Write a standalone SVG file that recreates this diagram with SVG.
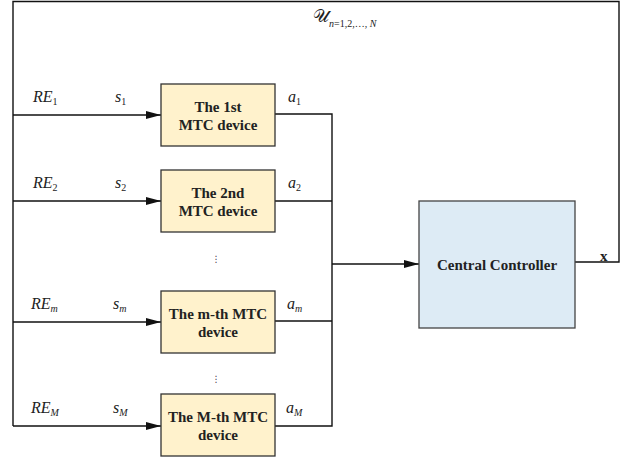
<svg xmlns="http://www.w3.org/2000/svg" width="628" height="460" viewBox="0 0 628 460">
<style>
.dev{fill:#FFF2CC;stroke:#333;stroke-width:1.3}
.ctl{fill:#DDEBF5;stroke:#444;stroke-width:1.3}
.bt{font-family:"Liberation Serif",serif;font-weight:bold;font-size:15px;fill:#222;text-anchor:middle}
.lbl{font-family:"Liberation Serif",serif;font-style:italic;font-size:16px;fill:#222}
.sub{font-size:10px}
.ln{fill:none;stroke:#111;stroke-width:1.4}
.dots{font-family:"DejaVu Sans",sans-serif;font-size:9px;fill:#444;text-anchor:middle}
</style>
<defs>
<marker id="arr" markerWidth="15" markerHeight="8" refX="15" refY="4" orient="auto" markerUnits="userSpaceOnUse">
<path d="M0,0 L15,4 L0,8 Z" fill="#111"/>
</marker>
</defs>
<g id="connectors">
<path class="ln" d="M13,426 V1.5 H619 V262 H575"/>
<line class="ln" x1="13" y1="115" x2="161" y2="115" marker-end="url(#arr)"/>
<line class="ln" x1="13" y1="201" x2="161" y2="201" marker-end="url(#arr)"/>
<line class="ln" x1="13" y1="322" x2="161" y2="322" marker-end="url(#arr)"/>
<line class="ln" x1="13" y1="426" x2="161" y2="426" marker-end="url(#arr)"/>
<path class="ln" d="M275,114 H332 V426 H275"/>
<line class="ln" x1="275" y1="201" x2="332" y2="201"/>
<line class="ln" x1="275" y1="321" x2="332" y2="321"/>
<line class="ln" x1="332" y1="264" x2="419" y2="264" marker-end="url(#arr)"/>
</g>
<g id="dev1">
<rect class="dev" x="161" y="84" width="114" height="62"/>
<text class="bt" x="218" y="112">The 1st</text>
<text class="bt" x="218" y="130">MTC device</text>
</g>
<g id="dev2">
<rect class="dev" x="161" y="170" width="114" height="62"/>
<text class="bt" x="218" y="198">The 2nd</text>
<text class="bt" x="218" y="216">MTC device</text>
</g>
<g id="devm">
<rect class="dev" x="161" y="291" width="114" height="62"/>
<text class="bt" x="218" y="319">The m-th MTC</text>
<text class="bt" x="218" y="337">device</text>
</g>
<g id="devM">
<rect class="dev" x="161" y="394" width="114" height="62"/>
<text class="bt" x="218" y="422">The M-th MTC</text>
<text class="bt" x="218" y="440">device</text>
</g>
<g id="controller">
<rect class="ctl" x="419" y="201" width="156" height="127"/>
<text class="bt" x="497" y="270">Central Controller</text>
</g>
<g id="labels">
<text class="lbl" x="313" y="22"><tspan font-style="normal" font-size="18px">𝒰</tspan><tspan class="sub" dy="5">n</tspan><tspan class="sub" font-style="normal">=1,2,…, </tspan><tspan class="sub">N</tspan></text>
<text class="lbl" x="33" y="102">RE<tspan class="sub" dy="3" font-style="normal">1</tspan></text>
<text class="lbl" x="115" y="102">s<tspan class="sub" dy="3" font-style="normal">1</tspan></text>
<text class="lbl" x="288" y="102">a<tspan class="sub" dy="3" font-style="normal">1</tspan></text>
<text class="lbl" x="33" y="188">RE<tspan class="sub" dy="3" font-style="normal">2</tspan></text>
<text class="lbl" x="115" y="188">s<tspan class="sub" dy="3" font-style="normal">2</tspan></text>
<text class="lbl" x="288" y="188">a<tspan class="sub" dy="3" font-style="normal">2</tspan></text>
<text class="lbl" x="31" y="309">RE<tspan class="sub" dy="3">m</tspan></text>
<text class="lbl" x="113" y="309">s<tspan class="sub" dy="3">m</tspan></text>
<text class="lbl" x="287" y="309">a<tspan class="sub" dy="3">m</tspan></text>
<text class="lbl" x="31" y="413">RE<tspan class="sub" dy="3">M</tspan></text>
<text class="lbl" x="113" y="413">s<tspan class="sub" dy="3">M</tspan></text>
<text class="lbl" x="286" y="413">a<tspan class="sub" dy="3">M</tspan></text>
<text x="600" y="261" font-family="Liberation Serif,serif" font-weight="bold" font-size="15px" fill="#222">x</text>
<text class="dots" x="216" y="262">⋮</text>
<text class="dots" x="216" y="382">⋮</text>
</g>
</svg>
